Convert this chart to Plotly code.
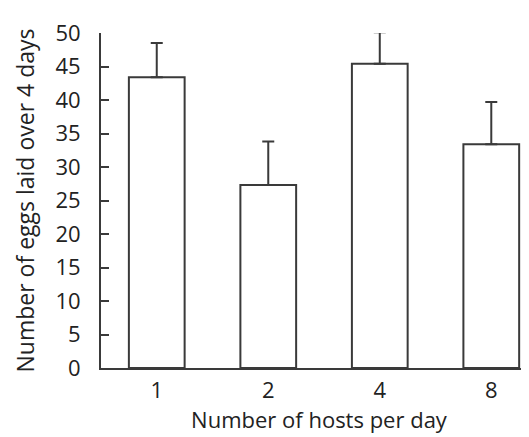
import plotly.graph_objects as go

categories = ["1", "2", "4", "8"]
means = [43.4, 27.3, 45.4, 33.4]
errors = [5.1, 6.5, 4.7, 6.3]
y_ticks = [0, 5, 10, 15, 20, 25, 30, 35, 40, 45, 50]

line_col = "#3a3a3a"
font_family = "'Open Sans', Lato, sans-serif"

fig = go.Figure(
    go.Bar(
        x=categories,
        y=means,
        width=0.5,
        cliponaxis=False,
        marker=dict(color="white", line=dict(color=line_col, width=2)),
        error_y=dict(
            type="data",
            symmetric=False,
            array=errors,
            arrayminus=[0] * len(errors),
            color=line_col,
            thickness=2,
            width=6,
        ),
    )
)

fig.update_layout(
    width=529,
    height=437,
    margin=dict(l=93, r=0, t=25, b=77),
    plot_bgcolor="white",
    paper_bgcolor="white",
    showlegend=False,
    font=dict(family=font_family, size=22, color="#222"),
    xaxis=dict(
        type="category",
        range=[-0.5, 3.41],
        showline=True,
        linecolor=line_col,
        linewidth=2,
        ticks="",
        showgrid=False,
        zeroline=False,
        tickfont=dict(size=22),
        ticklabelstandoff=2,
        title=dict(text="Number of hosts per day", font=dict(size=22), standoff=2),
    ),
    yaxis=dict(
        range=[0, 50],
        tickvals=y_ticks,
        showline=True,
        linecolor=line_col,
        linewidth=2,
        ticks="inside",
        ticklen=8,
        tickwidth=2,
        tickcolor=line_col,
        showgrid=False,
        zeroline=False,
        tickfont=dict(size=22),
        ticklabelstandoff=14,
        title=dict(text="Number of eggs laid over 4 days", font=dict(size=23), standoff=14),
    ),
)

fig.write_html("out.html")
